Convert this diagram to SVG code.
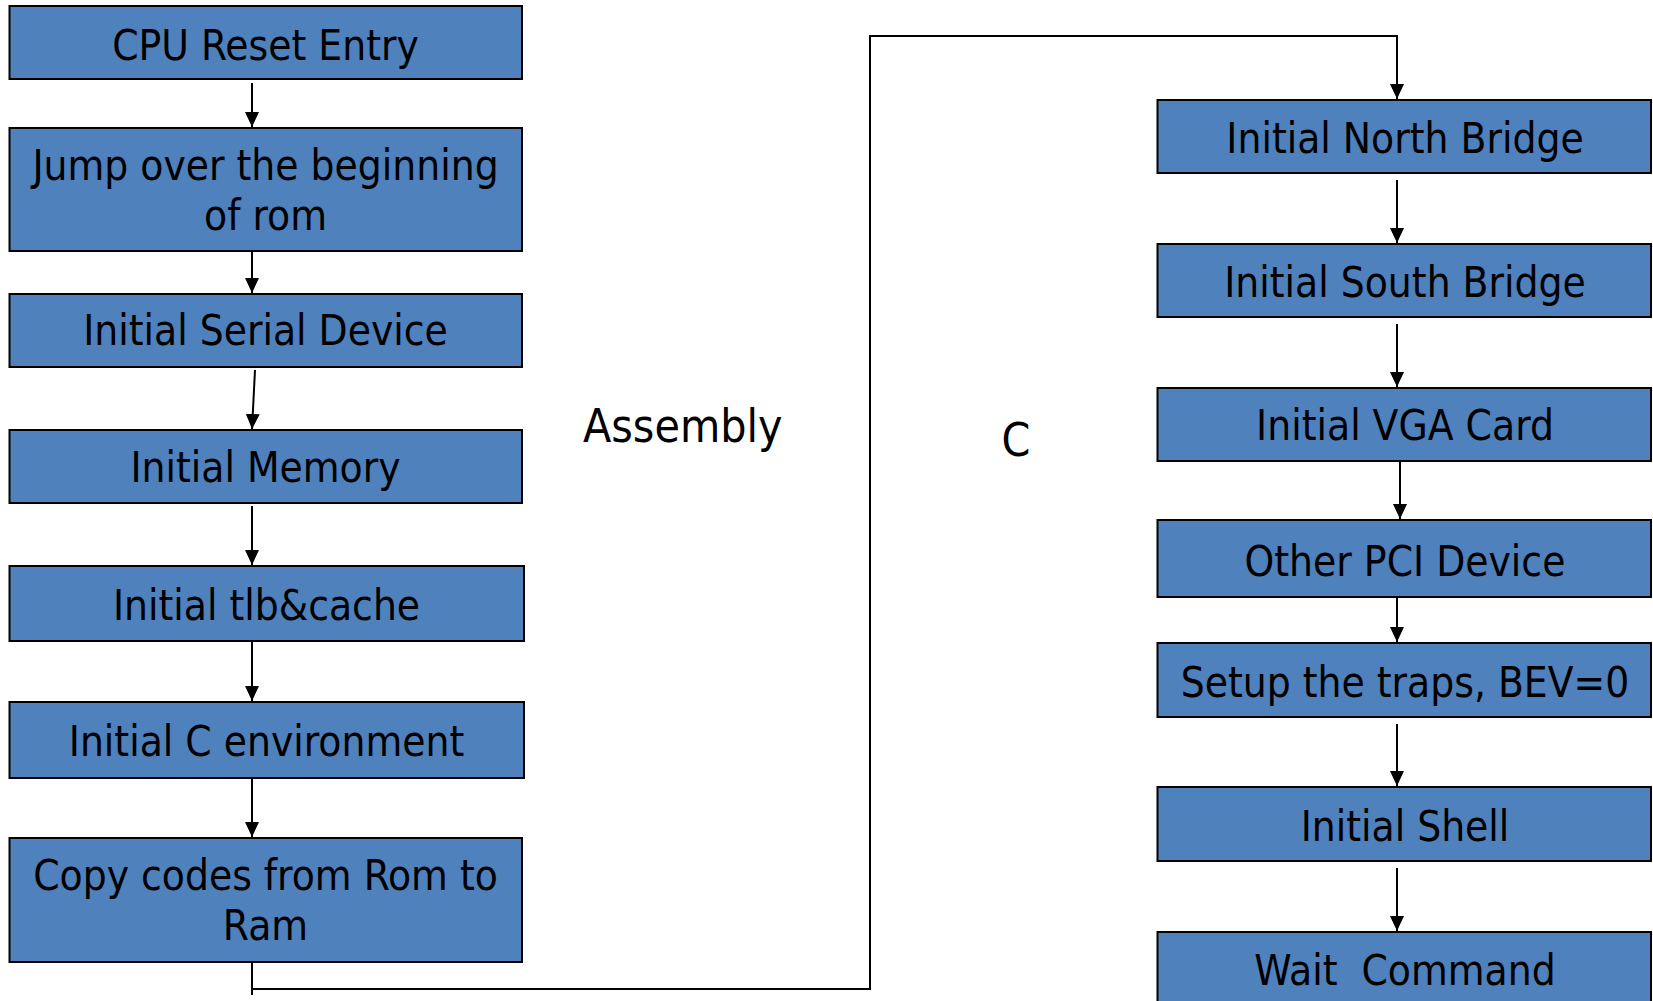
<svg xmlns="http://www.w3.org/2000/svg" width="1653" height="1001" viewBox="0 0 1653 1001">
  <defs>
    <marker id="arr" markerUnits="userSpaceOnUse" markerWidth="15" markerHeight="14" refX="15" refY="7" orient="auto">
      <path d="M0,0 L15,7 L0,14 z" fill="#000"/>
    </marker>
    <style>
      .box { fill: #4F81BD; stroke: #000; stroke-width: 2; }
      .t { font-family: "DejaVu Sans Condensed", "DejaVu Sans", sans-serif; font-size: 42px; fill: #000; text-anchor: middle; white-space: pre; }
      .lbl { font-family: "DejaVu Sans Condensed", "DejaVu Sans", sans-serif; font-size: 46px; fill: #000; }
      .c { fill: none; stroke: #000; stroke-width: 2; }
    </style>
  </defs>
  <rect width="1653" height="1001" fill="#fff"/>

  <g id="connectors">
    <line class="c" x1="252" y1="83" x2="252" y2="127" marker-end="url(#arr)"/>
    <line class="c" x1="252" y1="251" x2="252" y2="293" marker-end="url(#arr)"/>
    <line class="c" x1="255" y1="370" x2="252" y2="429" marker-end="url(#arr)"/>
    <line class="c" x1="252" y1="506" x2="252" y2="565" marker-end="url(#arr)"/>
    <line class="c" x1="252" y1="642" x2="252" y2="701" marker-end="url(#arr)"/>
    <line class="c" x1="252" y1="778" x2="252" y2="837" marker-end="url(#arr)"/>
    <polyline class="c" points="252,962 252,995"/>
    <polyline class="c" points="252,989 870,989 870,36 1397,36 1397,99" marker-end="url(#arr)"/>
    <line class="c" x1="1397" y1="180" x2="1397" y2="243" marker-end="url(#arr)"/>
    <line class="c" x1="1397" y1="324" x2="1397" y2="387" marker-end="url(#arr)"/>
    <line class="c" x1="1400" y1="461" x2="1400" y2="519" marker-end="url(#arr)"/>
    <line class="c" x1="1397" y1="597" x2="1397" y2="642" marker-end="url(#arr)"/>
    <line class="c" x1="1397" y1="724" x2="1397" y2="786" marker-end="url(#arr)"/>
    <line class="c" x1="1397" y1="868" x2="1397" y2="931" marker-end="url(#arr)"/>
  </g>

  <g id="n1"><rect class="box" x="9.5" y="6" width="512.5" height="73"/><text class="t" x="265.5" y="60">CPU Reset Entry</text></g>
  <g id="n2"><rect class="box" x="9.5" y="128" width="512.5" height="123"/><text class="t" x="265.5" y="180">Jump over the beginning</text><text class="t" x="265.5" y="230">of rom</text></g>
  <g id="n3"><rect class="box" x="9.5" y="294" width="512.5" height="73"/><text class="t" x="265.5" y="345">Initial Serial Device</text></g>
  <g id="n4"><rect class="box" x="9.5" y="430" width="512.5" height="73"/><text class="t" x="265.5" y="482">Initial Memory</text></g>
  <g id="n5"><rect class="box" x="9.5" y="566" width="514.5" height="75"/><text class="t" x="266.5" y="620">Initial tlb&amp;cache</text></g>
  <g id="n6"><rect class="box" x="9.5" y="702" width="514.5" height="76"/><text class="t" x="266.5" y="756">Initial C environment</text></g>
  <g id="n7"><rect class="box" x="9.5" y="838" width="512.5" height="124"/><text class="t" x="265.5" y="890">Copy codes from Rom to</text><text class="t" x="265.5" y="940">Ram</text></g>

  <g id="n8"><rect class="box" x="1157.5" y="100" width="493.5" height="73"/><text class="t" x="1405" y="153">Initial North Bridge</text></g>
  <g id="n9"><rect class="box" x="1157.5" y="244" width="493.5" height="73"/><text class="t" x="1405" y="297">Initial South Bridge</text></g>
  <g id="n10"><rect class="box" x="1157.5" y="388" width="493.5" height="73"/><text class="t" x="1405" y="440">Initial VGA Card</text></g>
  <g id="n11"><rect class="box" x="1157.5" y="520" width="493.5" height="77"/><text class="t" x="1405" y="576">Other PCI Device</text></g>
  <g id="n12"><rect class="box" x="1157.5" y="643" width="493.5" height="74"/><text class="t" x="1405" y="697">Setup the traps, BEV=0</text></g>
  <g id="n13"><rect class="box" x="1157.5" y="787" width="493.5" height="74"/><text class="t" x="1405" y="841">Initial Shell</text></g>
  <g id="n14"><rect class="box" x="1157.5" y="932" width="493.5" height="80"/><text class="t" x="1405" y="985">Wait  Command</text></g>

  <g id="labels">
    <text class="lbl" x="583" y="442">Assembly</text>
    <text class="lbl" x="1016" y="456" text-anchor="middle">C</text>
  </g>
</svg>
